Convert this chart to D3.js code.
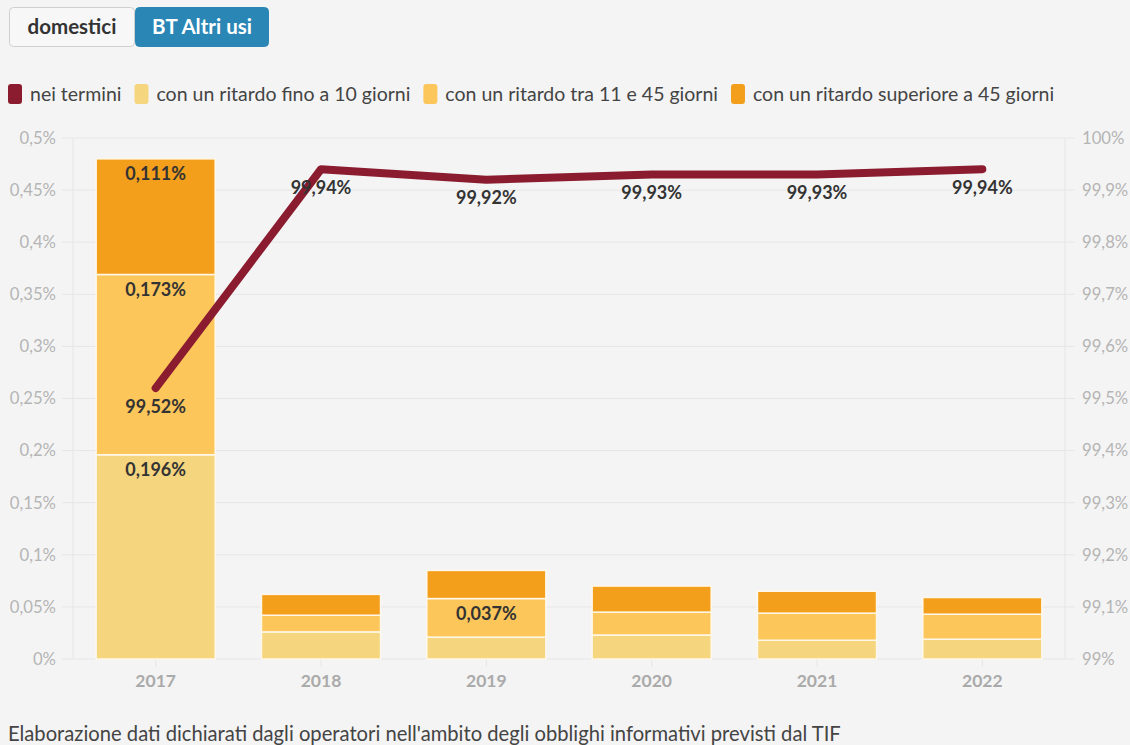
<!DOCTYPE html>
<html><head><meta charset="utf-8">
<script src="https://cdn.jsdelivr.net/npm/d3@7"></script>
<style>
body{margin:0;background:#f4f4f4;font-family:Lato,"Noto Sans",sans-serif;}
</style></head>
<body><svg id="c" width="1130" height="745"></svg>
<script>
const years = ["2017","2018","2019","2020","2021","2022"];
const neiTermini = [99.52, 99.94, 99.92, 99.93, 99.93, 99.94];
const fino10 = [0.196, 0.026, 0.021, 0.023, 0.018, 0.019];
const tra11e45 = [0.173, 0.016, 0.037, 0.022, 0.026, 0.024];
const oltre45 = [0.111, 0.020, 0.027, 0.025, 0.021, 0.016];
const seriesNames = ["nei termini","con un ritardo fino a 10 giorni","con un ritardo tra 11 e 45 giorni","con un ritardo superiore a 45 giorni"];
const leftTicks = [0,0.05,0.1,0.15,0.2,0.25,0.3,0.35,0.4,0.45,0.5];
const rightTicks = [99,99.1,99.2,99.3,99.4,99.5,99.6,99.7,99.8,99.9,100];
const buttons = ["domestici","BT Altri usi"];
const footer = "Elaborazione dati dichiarati dagli operatori nell'ambito degli obblighi informativi previsti dal TIF";

const colors = ["#8b1c2f","#f6d57f","#fcc65a","#f39f1c"];
const fmt = v => String(v).replace(".", ",") + "%";
const svg = d3.select("#c");
const font = "Lato, 'Noto Sans', sans-serif";

// buttons
const bx = [9,135], bw=[126,134];
buttons.forEach((b,i)=>{
  svg.append("rect").attr("x",bx[i]+0.5).attr("y",7.5).attr("width",bw[i]-1).attr("height",39).attr("rx",4)
    .attr("fill", i===1?"#2a86b5":"#f7f7f7").attr("stroke", i===1?"#2a86b5":"#cfcfcf");
  svg.append("text").attr("x",bx[i]+bw[i]/2).attr("y",34).attr("text-anchor","middle")
    .attr("font-family",font).attr("font-weight","bold").attr("font-size",20.5)
    .attr("fill", i===1?"#fff":"#333").text(b);
});

// legend
let lx = 8;
seriesNames.forEach((n,i)=>{
  svg.append("rect").attr("x",lx).attr("y",84).attr("width",14).attr("height",20).attr("rx",3).attr("fill",colors[i]);
  const t = svg.append("text").attr("x",lx+22).attr("y",101).attr("font-family",font).attr("font-size",19.5)
    .attr("fill","#444").text(n);
  lx += 22 + t.node().getComputedTextLength() + 13;
});

const x = d3.scaleBand().domain(years).range([73,1065]).paddingInner(0.28).paddingOuter(0.14);
const yL = d3.scaleLinear().domain([0,0.5]).range([659,138]);
const yR = d3.scaleLinear().domain([99,100]).range([659,138]);

// gridlines
svg.append("g").selectAll("line").data(leftTicks).join("line")
  .attr("x1",62).attr("x2",1075).attr("y1",d=>yL(d)).attr("y2",d=>yL(d))
  .attr("stroke","#e6e6e6").attr("stroke-width",1);
svg.append("line").attr("x1",73).attr("x2",73).attr("y1",138).attr("y2",659).attr("stroke","#e6e6e6");
svg.append("line").attr("x1",1065).attr("x2",1065).attr("y1",138).attr("y2",659).attr("stroke","#e6e6e6");

// axes
const axL = svg.append("g").attr("transform","translate(62,0)")
  .call(d3.axisLeft(yL).tickValues(leftTicks).tickSize(0).tickPadding(6).tickFormat(d=>fmt(+d.toFixed(2))));
const axR = svg.append("g").attr("transform","translate(1075,0)")
  .call(d3.axisRight(yR).tickValues(rightTicks).tickSize(0).tickPadding(7).tickFormat(d=>fmt(+d.toFixed(1))));
[axL,axR].forEach(a=>{a.select(".domain").remove();
  a.selectAll("text").attr("font-family",font).attr("font-size",16.7).attr("fill","#b5b5b5");});

const axX = svg.append("g").attr("transform","translate(0,659)")
  .call(d3.axisBottom(x).tickSize(8).tickPadding(8));
axX.select(".domain").remove();
axX.selectAll("line").attr("stroke","#e6e6e6");
axX.selectAll("text").attr("font-family",font).attr("font-size",17.5).attr("font-weight","bold").attr("fill","#aaa");

// stacked bars
const stackData = years.map((y,i)=>({year:y, a:fino10[i], b:tra11e45[i], c:oltre45[i]}));
const stack = d3.stack().keys(["a","b","c"])(stackData);
stack.forEach((layer,li)=>{
  const g = svg.append("g");
  g.selectAll("rect").data(layer).join("rect")
    .attr("x",d=>x(d.data.year)).attr("width",x.bandwidth())
    .attr("y",d=>yL(d[1])).attr("height",d=>yL(d[0])-yL(d[1]))
    .attr("fill",colors[li+1]).attr("stroke","#fff8ea").attr("stroke-width",1.5);
  g.selectAll("text").data(layer.filter(d=>yL(d[0])-yL(d[1])>32)).join("text")
    .attr("x",d=>x(d.data.year)+x.bandwidth()/2).attr("y",d=>yL(d[1])+21.5)
    .attr("text-anchor","middle").attr("font-family",font).attr("font-weight","bold").attr("font-size",18)
    .attr("fill","#333").text(d=>fmt(+(d[1]-d[0]).toFixed(3)));
});

// line
const line = d3.line().x((d,i)=>x(years[i])+x.bandwidth()/2).y(d=>yR(d));
svg.append("path").datum(neiTermini).attr("d",line).attr("fill","none")
  .attr("stroke",colors[0]).attr("stroke-width",8).attr("stroke-linecap","round").attr("stroke-linejoin","round");
svg.append("g").selectAll("text").data(neiTermini).join("text")
  .attr("x",(d,i)=>x(years[i])+x.bandwidth()/2).attr("y",d=>yR(d)+24.5)
  .attr("text-anchor","middle").attr("font-family",font).attr("font-weight","bold").attr("font-size",18)
  .attr("fill","#333").text(d=>fmt(d));

// footer
svg.append("text").attr("x",8).attr("y",741).attr("font-family",font).attr("font-size",20.2).attr("fill","#444").text(footer);
</script></body></html>
